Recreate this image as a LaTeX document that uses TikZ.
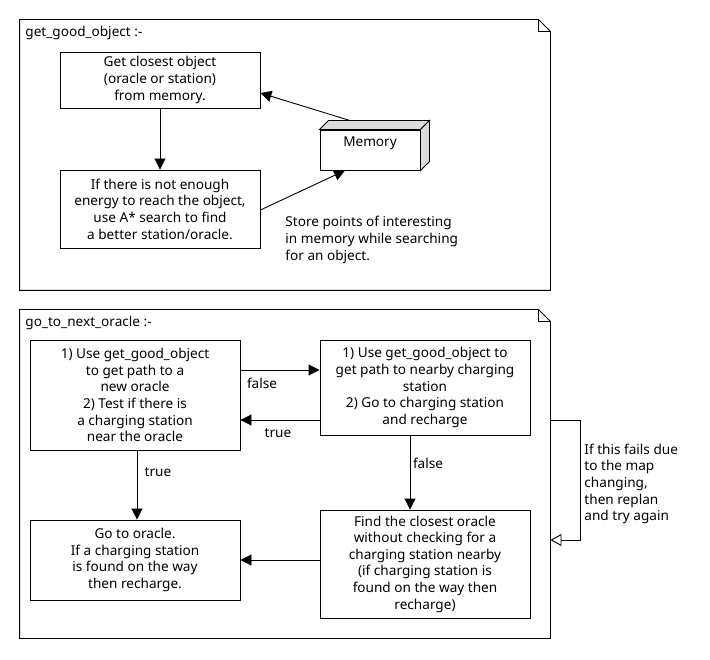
\documentclass[tikz,border=0pt]{standalone}
\usepackage{fontspec}
\setmainfont{Noto Sans}
\usetikzlibrary{arrows.meta,calc}
\begin{document}
\begin{tikzpicture}[x=1pt,y=-1pt,
  font=\fontsize{13.6}{16.6}\selectfont,
  line width=0.9pt,
  box/.style={draw,rectangle,align=center,inner sep=2pt},
  lbl/.style={inner sep=0pt},
  arr/.style={-{Triangle[length=11pt,width=11pt]}},
  openarr/.style={-{Triangle[open,length=11pt,width=12pt]}},
  region/.style={rectangle,inner sep=0pt}
]
\useasboundingbox (0,0) rectangle (710,660);

% ---- get_good_object frame ----
\node[region,minimum width=530pt,minimum height=270pt] (f1) at (285,155) {};
\draw (f1.north west) -- ($(f1.north east)+(-12,0)$) -- ($(f1.north east)+(0,12)$)
      -- (f1.south east) -- (f1.south west) -- cycle;
\draw ($(f1.north east)+(-12,0)$) -- ($(f1.north east)+(-12,12)$) -- ($(f1.north east)+(0,12)$);
\node[lbl,anchor=west] (t1) at (25,33) {get\_good\_object :-};

\node[box,minimum width=200pt,minimum height=56pt] (A) at (160,80)
  {Get closest object\\(oracle or station)\\from memory.};
\node[box,minimum width=200pt,minimum height=78pt] (B) at (160,209)
  {If there is not enough\\energy to reach the object,\\use A* search to find\\a better station/oracle.};

% memory drawn as a cuboid
\node[box,minimum width=100pt,minimum height=40pt,fill=white] (mem) at (370,150) {};
\draw[fill=black!14] (mem.north west) -- ++(9,-9) -- ($(mem.north east)+(9,-9)$) -- (mem.north east) -- cycle;
\draw[fill=black!14] (mem.north east) -- ++(9,-9) -- ($(mem.south east)+(9,-9)$) -- (mem.south east) -- cycle;
\node[lbl] (memtxt) at (370,143) {Memory};

\draw[arr] (A) -- (B);
\draw[arr] ($(mem.north)+(-20,-9)$) -- ($(A.east)+(0,13)$);
\draw[arr] ($(B.east)+(0,1)$) -- ($(mem.south)+(-25,0)$);

\node[lbl,anchor=west,align=left] (note1) at (285,240)
  {Store points of interesting\\in memory while searching\\for an object.};

% ---- go_to_next_oracle frame ----
\node[region,minimum width=530pt,minimum height=328pt] (f2) at (285,474) {};
\draw (f2.north west) -- ($(f2.north east)+(-12,0)$) -- ($(f2.north east)+(0,12)$)
      -- (f2.south east) -- (f2.south west) -- cycle;
\draw ($(f2.north east)+(-12,0)$) -- ($(f2.north east)+(-12,12)$) -- ($(f2.north east)+(0,12)$);
\node[lbl,anchor=west] (t2) at (25,323) {go\_to\_next\_oracle :-};

\node[box,minimum width=210pt,minimum height=110pt] (C) at (135,395)
  {1) Use get\_good\_object\\to get path to a\\new oracle\\2) Test if there is\\a charging station\\near the oracle};
\node[box,minimum width=210pt,minimum height=95pt] (D) at (425,387.5)
  {1) Use get\_good\_object to\\get path to nearby charging\\station\\2) Go to charging station\\and recharge};
\node[box,minimum width=210pt,minimum height=80pt] (E) at (135,560)
  {Go to oracle.\\If a charging station\\is found on the way\\then recharge.};
\node[box,minimum width=210pt,minimum height=108pt] (F) at (425,564)
  {Find the closest oracle\\without checking for a\\charging station nearby\\(if charging station is\\found on the way then\\recharge)};

\draw[arr] ($(C.east)+(0,-25)$) -- ($(D.west)+(0,-17.5)$);
\draw[arr] ($(D.west)+(0,32.5)$) -- ($(C.east)+(0,25)$);
\draw[arr] ($(C.south)+(2,0)$) -- ($(E.north)+(2,0)$);
\draw[arr] ($(D.south)+(-15,0)$) -- ($(F.north)+(-15,0)$);
\draw[arr] ($(F.west)+(0,-4)$) -- ($(E.east)+(0,0)$);

\node[lbl] (lf1) at (262,383) {false};
\node[lbl] (lt1) at (278,433) {true};
\node[lbl] (lt2) at (158,472) {true};
\node[lbl] (lf2) at (428,463) {false};

% replanning loop on the frame's right side
\coordinate (loopa) at ($(f2.east)+(0,-54)$);
\coordinate (loopb) at ($(f2.east)+(0,66)$);
\draw[openarr] (loopa) -- ++(30,0) |- (loopb);
\node[lbl,anchor=west,align=left] (note2) at (584,484)
  {If this fails due\\to the map\\changing,\\then replan\\and try again};
\end{tikzpicture}
\end{document}
